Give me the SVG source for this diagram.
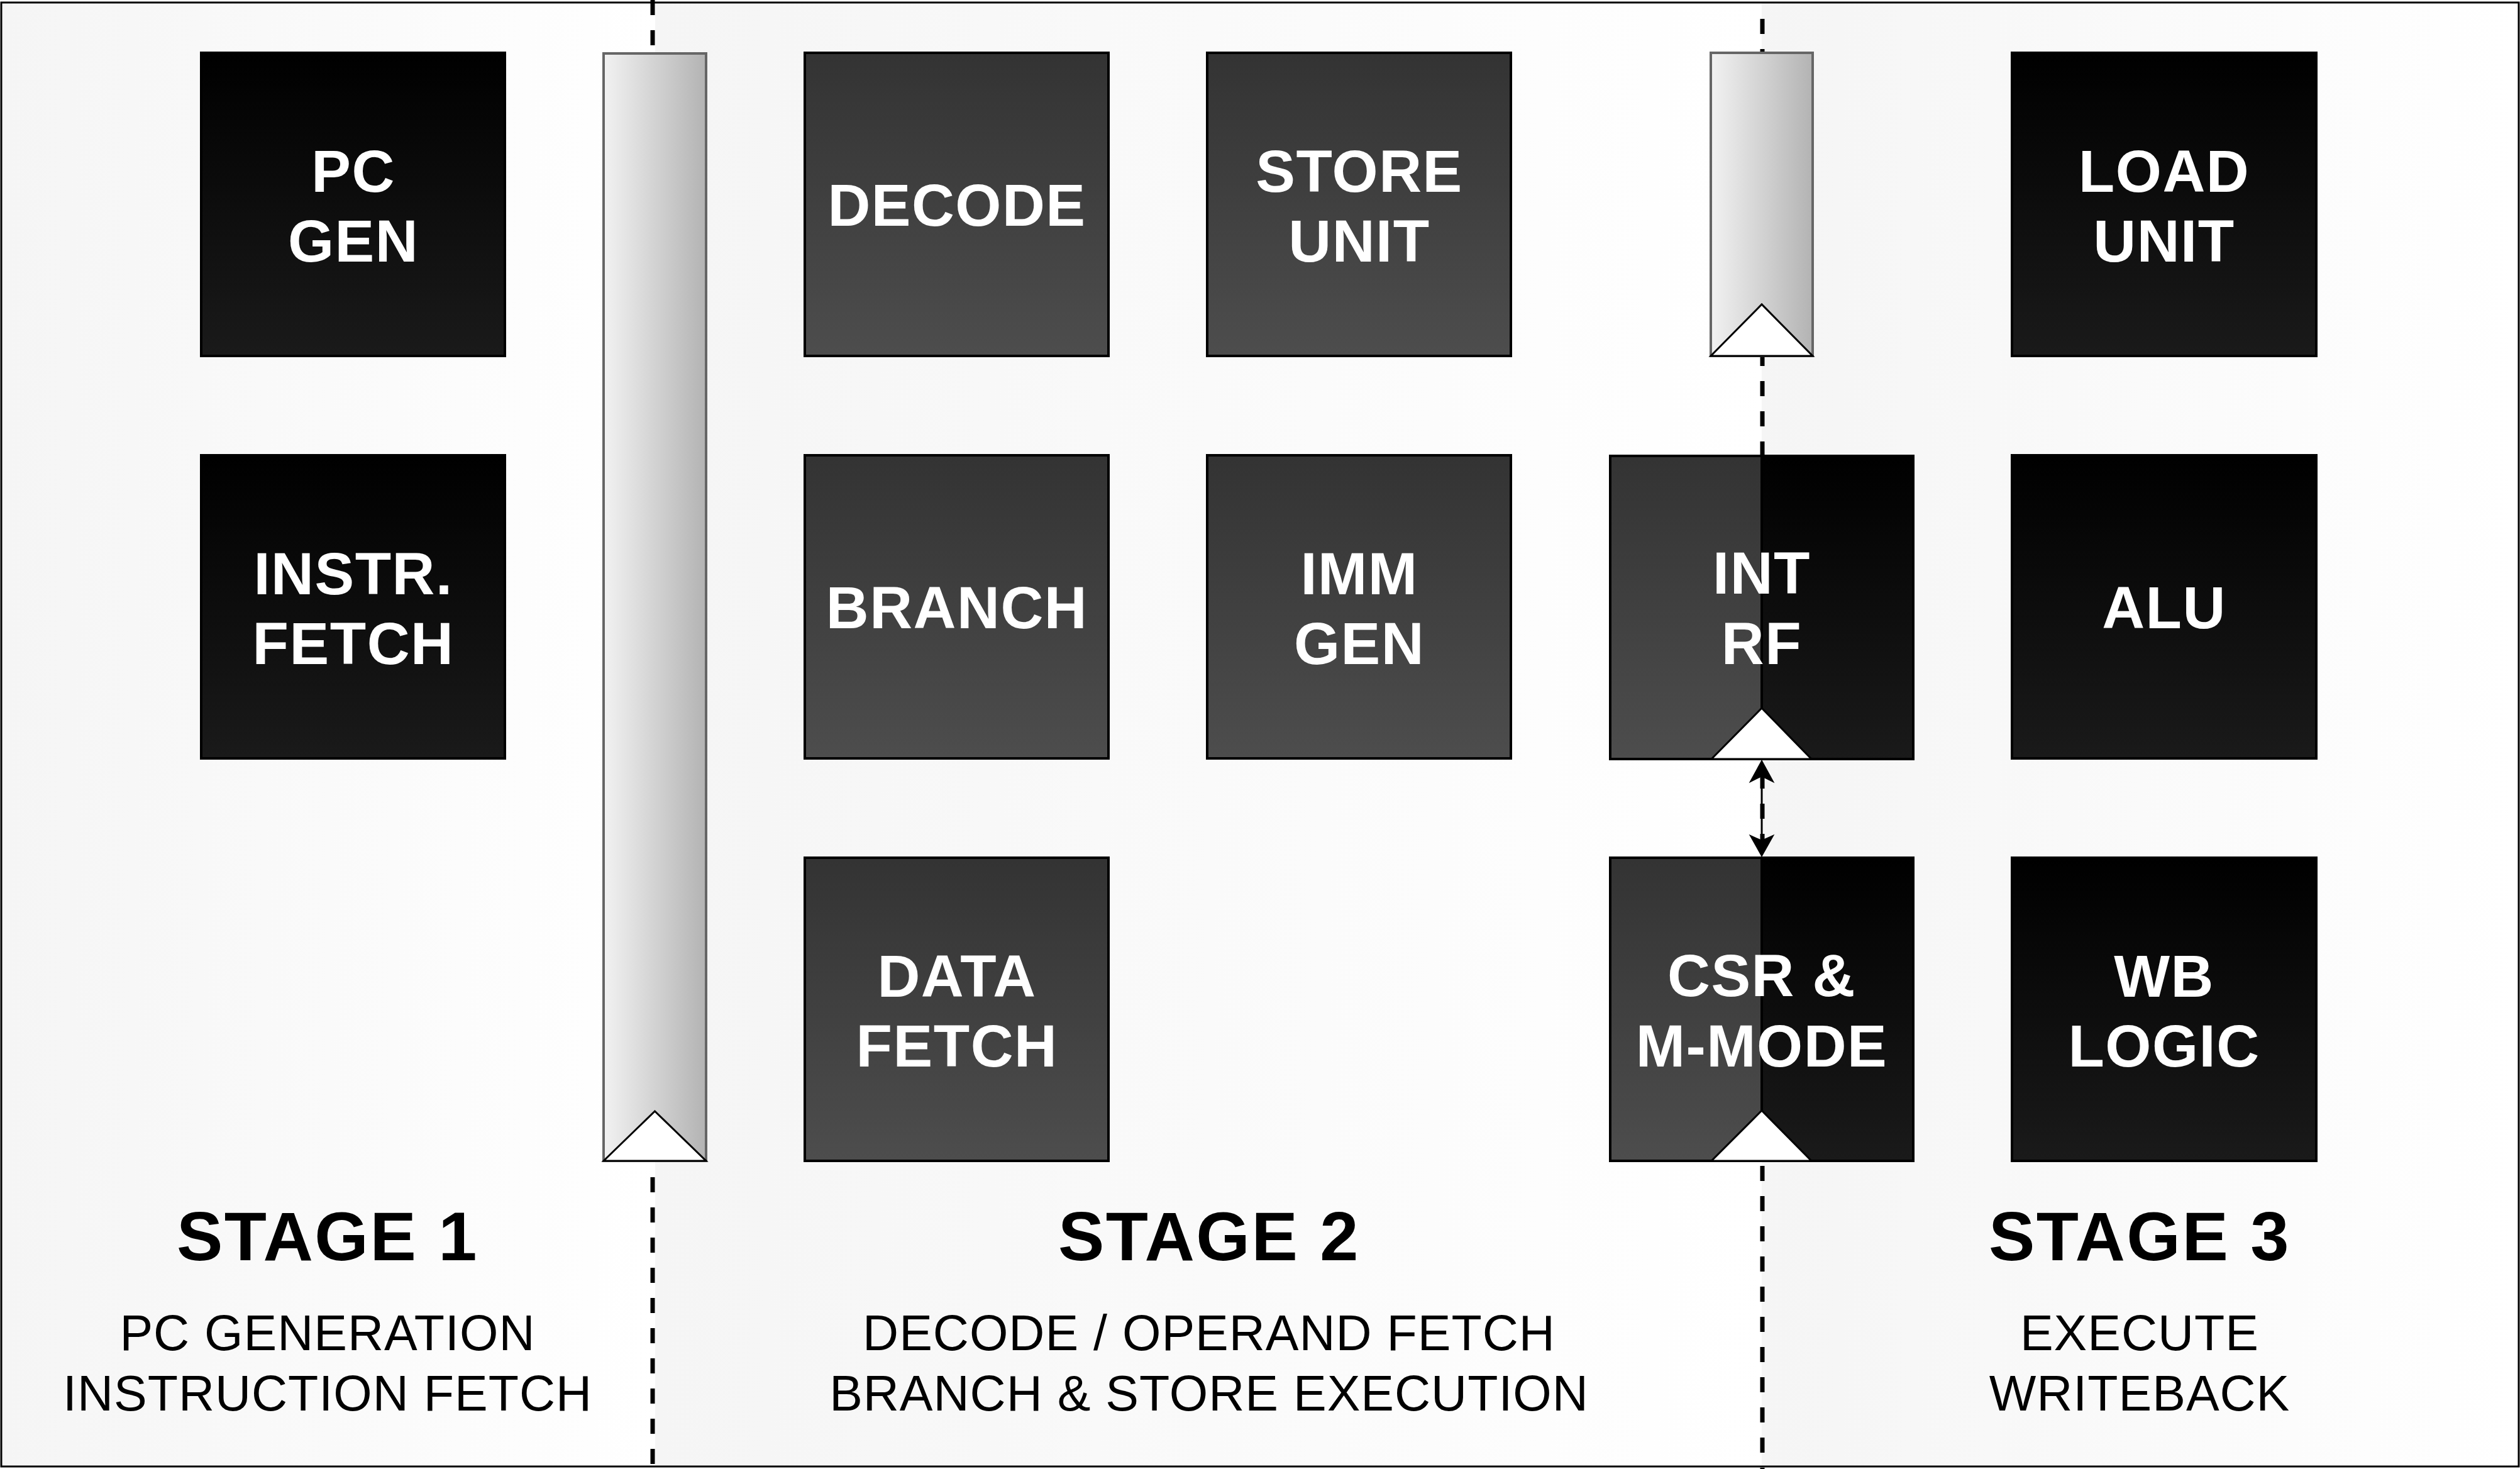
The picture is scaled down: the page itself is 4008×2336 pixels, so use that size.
<svg xmlns="http://www.w3.org/2000/svg" width="4008" height="2336" viewBox="0 0 4008 2336">
<defs>
  <linearGradient id="lane" x1="0" y1="0" x2="1" y2="0">
    <stop offset="0" stop-color="#f5f5f5"/>
    <stop offset="1" stop-color="#ffffff"/>
  </linearGradient>
  <linearGradient id="dark" x1="0" y1="0" x2="0" y2="1">
    <stop offset="0" stop-color="#000000"/>
    <stop offset="1" stop-color="#1a1a1a"/>
  </linearGradient>
  <linearGradient id="mid" x1="0" y1="0" x2="0" y2="1">
    <stop offset="0" stop-color="#333333"/>
    <stop offset="1" stop-color="#4d4d4d"/>
  </linearGradient>
  <linearGradient id="reg" x1="0" y1="0" x2="1" y2="0">
    <stop offset="0" stop-color="#f2f2f2"/>
    <stop offset="1" stop-color="#b3b3b3"/>
  </linearGradient>
</defs>
<style>
  .lane { fill: url(#lane); }
  .stage-sep { stroke: #000; stroke-width: 7; stroke-dasharray: 24 24; fill: none; }
  .reg { fill: url(#reg); stroke: #666666; stroke-width: 4; }
  .tri { fill: #ffffff; stroke: #000; stroke-width: 3; stroke-linejoin: miter; }
  .n1 { fill: url(#dark); stroke: #000; stroke-width: 4; }
  .n2 { fill: url(#mid); stroke: #000; stroke-width: 4; }
  .lbl { font-family: "Liberation Sans", Arial, sans-serif; font-weight: bold; font-size: 94px; letter-spacing: 1.5px; fill: #ffffff; text-anchor: middle; }
  .title { font-family: "Liberation Sans", Arial, sans-serif; font-weight: bold; font-size: 110px; letter-spacing: 2.5px; fill: #000; text-anchor: middle; }
  .sub { font-family: "Liberation Sans", Arial, sans-serif; font-size: 79px; letter-spacing: 1px; fill: #000; text-anchor: middle; }
  .conn { stroke: #000; stroke-width: 3; fill: none; }
  .ahead { fill: #000; stroke: #000; stroke-width: 2; }
</style>

<g id="background">
  <rect x="2" y="4" width="1040" height="2328" class="lane"/>
  <rect x="1042" y="4" width="1760" height="2328" class="lane"/>
  <rect x="2802" y="4" width="1204" height="2328" class="lane"/>
</g>

<g id="stage-separators">
  <line x1="1038" y1="0" x2="1038" y2="2336" class="stage-sep"/>
  <line x1="2803" y1="30" x2="2803" y2="2336" class="stage-sep"/>
</g>

<g id="reg-1">
  <rect x="960" y="85" width="163" height="1761" class="reg"/>
  <polygon points="960,1846 1041.5,1767 1123,1846" class="tri"/>
</g>
<g id="reg-2">
  <rect x="2721" y="84" width="162" height="482" class="reg"/>
  <polygon points="2721,566 2802,484 2883,566" class="tri"/>
</g>

<g id="pc-gen">
  <rect x="320" y="84" width="483" height="482" class="n1"/>
  <text class="lbl" x="562" y="305">PC</text>
  <text class="lbl" x="562" y="416">GEN</text>
</g>
<g id="instr-fetch">
  <rect x="320" y="724" width="483" height="482" class="n1"/>
  <text class="lbl" x="562" y="945">INSTR.</text>
  <text class="lbl" x="562" y="1056">FETCH</text>
</g>

<g id="decode">
  <rect x="1280" y="84" width="483" height="482" class="n2"/>
  <text class="lbl" x="1522" y="359">DECODE</text>
</g>
<g id="branch">
  <rect x="1280" y="724" width="483" height="482" class="n2"/>
  <text class="lbl" x="1522" y="999">BRANCH</text>
</g>
<g id="data-fetch">
  <rect x="1280" y="1364" width="483" height="482" class="n2"/>
  <text class="lbl" x="1522" y="1585">DATA</text>
  <text class="lbl" x="1522" y="1696">FETCH</text>
</g>

<g id="store-unit">
  <rect x="1920" y="84" width="483" height="482" class="n2"/>
  <text class="lbl" x="2162" y="305">STORE</text>
  <text class="lbl" x="2162" y="416">UNIT</text>
</g>
<g id="imm-gen">
  <rect x="1920" y="724" width="483" height="482" class="n2"/>
  <text class="lbl" x="2162" y="945">IMM</text>
  <text class="lbl" x="2162" y="1056">GEN</text>
</g>

<g id="int-rf">
  <rect x="2561" y="725" width="241" height="482" class="n2"/>
  <rect x="2802" y="725" width="241" height="482" class="n1"/>
  <polygon points="2722,1207 2802,1126 2881,1207" class="tri"/>
  <text class="lbl" x="2802" y="944">INT</text>
  <text class="lbl" x="2802" y="1056">RF</text>
</g>
<g id="csr-mmode">
  <rect x="2561" y="1364" width="241" height="482" class="n2"/>
  <rect x="2802" y="1364" width="241" height="482" class="n1"/>
  <polygon points="2722,1846 2802,1766 2881,1846" class="tri"/>
  <text class="lbl" x="2802" y="1584">CSR &amp;</text>
  <text class="lbl" x="2802" y="1696">M-MODE</text>
</g>

<g id="load-unit">
  <rect x="3200" y="84" width="484" height="482" class="n1"/>
  <text class="lbl" x="3442" y="305">LOAD</text>
  <text class="lbl" x="3442" y="416">UNIT</text>
</g>
<g id="alu">
  <rect x="3200" y="724" width="484" height="482" class="n1"/>
  <text class="lbl" x="3442" y="999">ALU</text>
</g>
<g id="wb-logic">
  <rect x="3200" y="1364" width="484" height="482" class="n1"/>
  <text class="lbl" x="3442" y="1585">WB</text>
  <text class="lbl" x="3442" y="1696">LOGIC</text>
</g>

<g id="connectors">
  <line x1="2802" y1="1230" x2="2802" y2="1340" class="conn"/>
  <path d="M2802,1210 L2820,1243 L2802,1234 L2784,1243 Z" class="ahead"/>
  <path d="M2802,1361 L2784,1329 L2802,1337 L2820,1329 Z" class="ahead"/>
</g>

<g id="stage-labels">
  <text class="title" x="521" y="2004">STAGE 1</text>
  <text class="sub" x="521" y="2147">PC GENERATION</text>
  <text class="sub" x="521" y="2243">INSTRUCTION FETCH</text>
  <text class="title" x="1923" y="2004">STAGE 2</text>
  <text class="sub" x="1923" y="2147">DECODE / OPERAND FETCH</text>
  <text class="sub" x="1923" y="2243">BRANCH &amp; STORE EXECUTION</text>
  <text class="title" x="3403" y="2004">STAGE 3</text>
  <text class="sub" x="3403" y="2147">EXECUTE</text>
  <text class="sub" x="3403" y="2243">WRITEBACK</text>
</g>

<rect id="frame" x="2" y="4" width="4004" height="2328" fill="none" stroke="#000" stroke-width="3"/>
</svg>
